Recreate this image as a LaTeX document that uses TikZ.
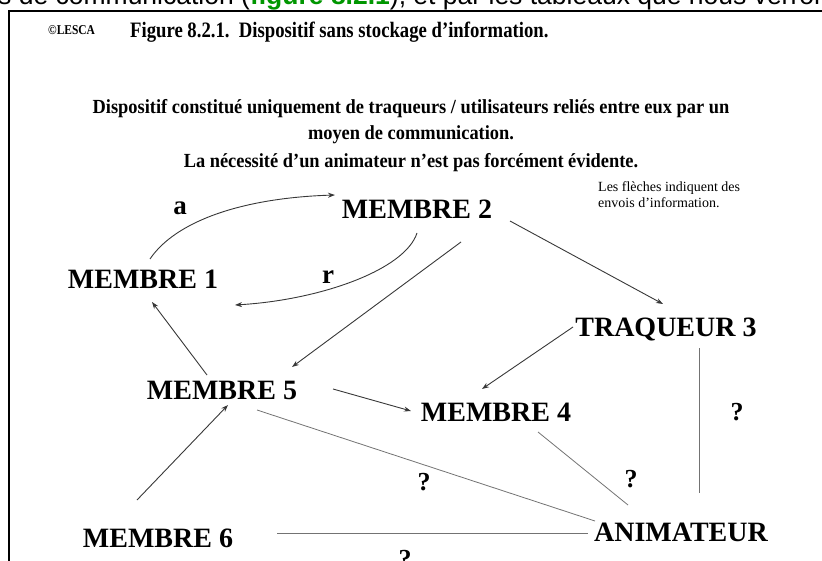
\documentclass[tikz,border=0pt]{standalone}
\usepackage{fontspec}
\setmainfont{Liberation Serif}
\newfontfamily\sansfont{Liberation Sans}
\newfontfamily\narrowfont[FakeStretch=0.85]{Liberation Serif}
\newfontfamily\introfont[FakeStretch=0.92]{Liberation Serif}
\usetikzlibrary{arrows.meta}
\definecolor{lienfonce}{gray}{0.22}
\definecolor{liengris}{gray}{0.45}
\definecolor{vertfig}{RGB}{0,150,0}

\begin{document}
\begin{tikzpicture}[
    x=1pt, y=-1pt,
    membre/.style={font=\fontsize{28}{30}\selectfont\bfseries, inner sep=0pt, text height=19pt, text depth=0pt},
    etiq/.style={font=\fontsize{27}{30}\selectfont\bfseries, inner sep=0pt},
    question/.style={font=\fontsize{26}{28}\selectfont\bfseries, inner sep=0pt},
    entete/.style={font=\introfont\fontsize{20}{22}\selectfont\bfseries, anchor=base, inner sep=0pt},
    legende/.style={font=\fontsize{14}{16}\selectfont, anchor=base west, inner sep=0pt},
    fleche/.style={->, >={Stealth[length=7pt,width=5pt]}, line width=0.9pt, lienfonce},
    lien/.style={line width=0.8pt, liengris},
]
\useasboundingbox (0,0) rectangle (822,561);
\clip (0,0) rectangle (822,561);

% Texte de la page (coupe)
\node[font=\sansfont\fontsize{26.5}{28}\selectfont, anchor=base west, inner sep=0pt] (page) at (-2,5)
    {s de communication (\textcolor{vertfig}{\bfseries figure 8.2.1}), et par les tableaux que nous verrons};

% Cadre
\draw[line width=2.4pt] (822,11) -- (9,11) -- (9,561);

% Titre
\node[font=\narrowfont\fontsize{13.5}{15}\selectfont\bfseries, anchor=base west, inner sep=0pt] (lesca) at (48,35) {©LESCA};
\node[font=\narrowfont\fontsize{22}{24}\selectfont\bfseries, anchor=base west, inner sep=0pt] (titre) at (130,37.5)
    {Figure 8.2.1.\ \ Dispositif sans stockage d’information.};

% Introduction
\node[entete] (intro1) at (411,113.5) {Dispositif constitué uniquement de traqueurs / utilisateurs reliés entre eux par un};
\node[entete] (intro2) at (411,140) {moyen de communication.};
\node[entete] (intro3) at (411,167.5) {La nécessité d’un animateur n’est pas forcément évidente.};

% Legende
\node[legende] (legende1) at (598,192) {Les flèches indiquent des};
\node[legende] (legende2) at (598,208) {envois d’information.};

% Membres
\node[membre] (m1) at (143,279) {MEMBRE 1};
\node[membre] (m2) at (417,209) {MEMBRE 2};
\node[membre] (t3) at (666,327) {TRAQUEUR 3};
\node[membre] (m4) at (496,412) {MEMBRE 4};
\node[membre] (m5) at (222,390) {MEMBRE 5};
\node[membre] (m6) at (158,538) {MEMBRE 6};
\node[membre] (anim) at (681,532) {ANIMATEUR};

% Envois d'information
\draw[fleche] ([shift={(7,-20)}]m1.center) .. controls +(25,-37) and +(-95,3) .. ([shift={(-82,-14)}]m2.center);
\node[etiq] (a) at (180,208) {a};
\draw[fleche] ([shift={(0,24)}]m2.center) .. controls +(-12,37) and +(85,-5) .. ([shift={(92,26)}]m1.center);
\node[etiq] (r) at (328,277) {r};

\draw[fleche] ([shift={(44,33)}]m2.center) -- ([shift={(70,-23)}]m5.center);
\draw[fleche] ([shift={(93,12)}]m2.center) -- ([shift={(-3,-23)}]t3.center);
\draw[fleche] ([shift={(-93,0)}]t3.center) -- ([shift={(-14,-23)}]m4.center);
\draw[fleche] ([shift={(-15,-15)}]m5.center) -- ([shift={(9,23)}]m1.center);
\draw[fleche] ([shift={(111,-1)}]m5.center) -- ([shift={(-85,-1)}]m4.center);
\draw[fleche] ([shift={(-21,-38)}]m6.center) -- ([shift={(6,15)}]m5.center);

% Liens avec l'animateur
\draw[lien] ([shift={(35,20)}]m5.center) -- ([shift={(-86,-11)}]anim.center);
\draw[lien] ([shift={(42,20)}]m4.center) -- ([shift={(-53,-27)}]anim.center);
\draw[lien] ([shift={(33,21)}]t3.center) -- ([shift={(18,-39)}]anim.center);
\draw[lien] ([shift={(119,-5)}]m6.center) -- ([shift={(-93,1)}]anim.center);

\node[question] (q1) at (737,412) {?};
\node[question] (q2) at (631,479) {?};
\node[question] (q3) at (424,482) {?};
\node[question] (q4) at (405,559) {?};

\end{tikzpicture}
\end{document}
